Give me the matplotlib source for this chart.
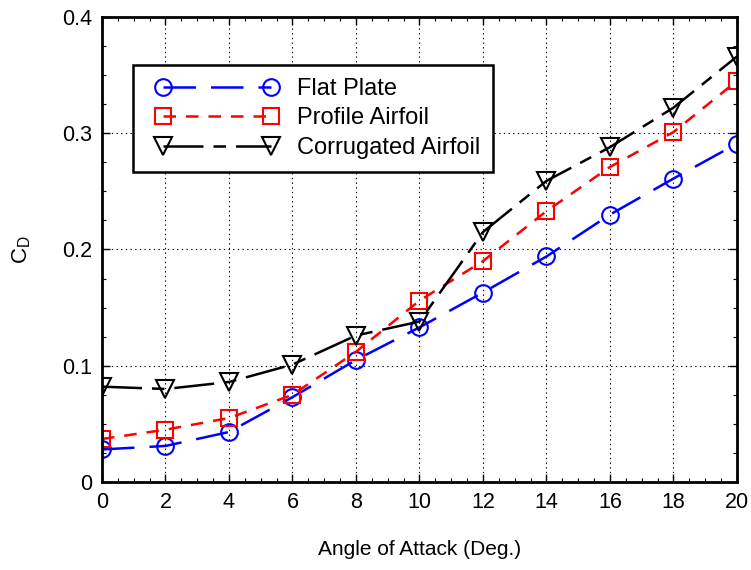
import numpy as np
import matplotlib
matplotlib.use("Agg")
import matplotlib.pyplot as plt
from matplotlib.ticker import MultipleLocator
from matplotlib.legend_handler import HandlerLine2D

plt.rcParams['font.family'] = ['Liberation Sans', 'DejaVu Sans']

# -- data --
angle = [0, 2, 4, 6, 8, 10, 12, 14, 16, 18, 20]
cd_flat = [0.028, 0.031, 0.043, 0.073, 0.105, 0.133, 0.163, 0.194, 0.230, 0.261, 0.291]
cd_profile = [0.037, 0.045, 0.055, 0.075, 0.112, 0.156, 0.190, 0.233, 0.271, 0.301, 0.345]
cd_corrugated = [0.082, 0.080, 0.086, 0.101, 0.126, 0.138, 0.215, 0.259, 0.288, 0.322, 0.366]

fig = plt.figure(figsize=(7.51, 5.70), dpi=100)
ax = fig.add_axes([0.1358, 0.1544, 0.8455, 0.8158])

l1, = ax.plot(angle, cd_flat, color='blue', lw=1.8, marker='o', ms=12,
              mfc='none', mew=1.5, label='Flat Plate')
l1.set_dashes([13, 6])
l2, = ax.plot(angle, cd_profile, color='red', lw=1.8, marker='s', ms=12,
              mfc='none', mew=1.5, label='Profile Airfoil')
l2.set_dashes([5, 4])
l3, = ax.plot(angle, cd_corrugated, color='black', lw=1.8, marker='v', ms=13,
              mfc='none', mew=1.5, label='Corrugated Airfoil')
l3.set_dashes([16, 4, 5, 4])

ax.set_xlim(0, 20)
ax.set_ylim(0, 0.4)
ax.xaxis.set_major_locator(MultipleLocator(2))
ax.xaxis.set_minor_locator(MultipleLocator(0.5))
ax.yaxis.set_minor_locator(MultipleLocator(0.025))
ax.set_yticks([0, 0.1, 0.2, 0.3, 0.4])
ax.set_yticklabels(['0', '0.1', '0.2', '0.3', '0.4'])

ax.tick_params(which='both', direction='in', top=True, right=True, labelsize=15.5, pad=7)
ax.tick_params(which='major', length=6, width=1)
ax.tick_params(which='minor', length=3, width=0.8)
for s in ax.spines.values():
    s.set_linewidth(2)

ax.grid(True, which='major', color='black', linestyle=(0, (1.2, 3)), linewidth=0.8)

ax.set_xlabel('Angle of Attack (Deg.)', fontsize=15, labelpad=20)
ax.set_ylabel('C$_\\mathregular{D}$', fontsize=16, labelpad=21)

hmap = {l: HandlerLine2D(marker_pad=0.72) for l in (l1, l2, l3)}
leg = ax.legend(loc='upper left', bbox_to_anchor=(0.049, 0.897), fontsize=17,
                numpoints=2, handlelength=6.0, fancybox=False, edgecolor='black',
                framealpha=1, borderpad=0.55, labelspacing=0.32, handletextpad=0.38,
                borderaxespad=0, handler_map=hmap)
leg.get_frame().set_linewidth(1.8)

fig.savefig('out.png', dpi=100)
